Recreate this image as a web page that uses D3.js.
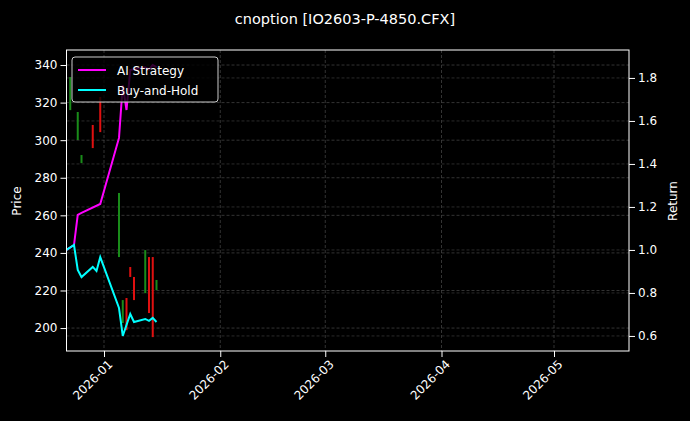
<!DOCTYPE html><html><head><meta charset="utf-8">
<script src="https://cdn.jsdelivr.net/npm/d3@7"></script>
<style>body{margin:0;background:#000}svg{display:block}</style></head><body>
<svg id="c" width="690" height="421"></svg>
<script>
const candleDates=["2025-12-23","2025-12-25","2025-12-26","2025-12-29","2025-12-31","2026-01-05","2026-01-06","2026-01-07","2026-01-08","2026-01-09","2026-01-12","2026-01-13","2026-01-14","2026-01-15"];
const candleOpen =[316.0,300.1,287.8,308.1,323.0,237.8,202.7,216.0,232.5,227.2,218.6,237.8,237.8,220.2];
const candleClose=[333.6,315.0,292.1,295.8,304.3,271.9,214.9,198.9,227.2,214.9,241.5,208.0,195.2,225.6];
const bhDates=["2025-12-22","2025-12-24","2025-12-25","2025-12-26","2025-12-29","2025-12-30","2025-12-31","2026-01-05","2026-01-06","2026-01-08","2026-01-09","2026-01-12","2026-01-13","2026-01-14","2026-01-15"];
const bhValues=[1.0,1.023,0.907,0.874,0.921,0.902,0.967,0.73,0.60,0.702,0.665,0.679,0.670,0.684,0.665];
const aiDates=["2025-12-22","2025-12-24","2025-12-25","2025-12-26","2025-12-31","2026-01-05","2026-01-06","2026-01-07","2026-01-08","2026-01-09","2026-01-12","2026-01-13","2026-01-14","2026-01-15"];
const aiValues=[1.0,1.023,1.163,1.172,1.214,1.521,1.767,1.651,1.837,1.84,1.85,1.84,1.86,1.85];
const priceTicks=[200,220,240,260,280,300,320,340];
const returnTicks=[0.6,0.8,1.0,1.2,1.4,1.6,1.8];
const monthTicks=["2026-01-01","2026-02-01","2026-03-01","2026-04-01","2026-05-01"];

const P=d3.timeParse("%Y-%m-%d");
const L=66.5,R=629,T=50,B=351;
const svg=d3.select("#c");
svg.append("rect").attr("width",690).attr("height",421).attr("fill","#000");
const x=d3.scaleTime().domain([P("2025-12-22"),P("2026-05-21")]).range([L,R]);
const yP=d3.scaleLinear().domain([187.8,348]).range([B,T]);
const yR=d3.scaleLinear().domain([0.530,1.930]).range([B,T]);
const g=svg.append("g");
// grid
monthTicks.forEach(m=>g.append("line").attr("x1",x(P(m))).attr("x2",x(P(m))).attr("y1",T).attr("y2",B).attr("stroke","#555").attr("stroke-width",0.6).attr("stroke-dasharray","3,2"));
priceTicks.forEach(v=>g.append("line").attr("x1",L).attr("x2",R).attr("y1",yP(v)).attr("y2",yP(v)).attr("stroke","#555").attr("stroke-width",0.6).attr("stroke-dasharray","3,2"));
returnTicks.forEach(v=>g.append("line").attr("x1",L).attr("x2",R).attr("y1",yR(v)).attr("y2",yR(v)).attr("stroke","#444").attr("stroke-width",0.6).attr("stroke-dasharray","3,2"));
// candles
candleDates.forEach((d,i)=>{const o=candleOpen[i],c=candleClose[i];
 g.append("rect").attr("x",x(P(d))-1).attr("width",2).attr("y",yP(Math.max(o,c))).attr("height",Math.abs(yP(o)-yP(c)))
 .attr("fill",c>=o?"#1a8c1a":"#e01010");});
const line=d3.line().x(d=>x(d[0])).y(d=>yR(d[1]));
const clip=svg.append("clipPath").attr("id","cp").append("rect").attr("x",L).attr("y",T).attr("width",R-L).attr("height",B-T);
g.append("path").attr("clip-path","url(#cp)").attr("d",line(aiDates.map((d,i)=>[P(d),aiValues[i]]))).attr("fill","none").attr("stroke","#ff00ff").attr("stroke-width",2);
g.append("path").attr("clip-path","url(#cp)").attr("d",line(bhDates.map((d,i)=>[P(d),bhValues[i]]))).attr("fill","none").attr("stroke","#00ffff").attr("stroke-width",2);
// axes
const font="DejaVu Sans";
const ax=svg.append("g").attr("transform",`translate(0,${B})`).call(d3.axisBottom(x).tickValues(monthTicks.map(P)).tickFormat(d3.timeFormat("%Y-%m")).tickSizeOuter(0));
ax.selectAll("text").attr("transform","rotate(-45)").style("text-anchor","end").attr("dx","-0.3em").attr("dy","0.6em");
const al=svg.append("g").attr("transform",`translate(${L},0)`).call(d3.axisLeft(yP).tickValues(priceTicks).tickSizeOuter(0));
const ar=svg.append("g").attr("transform",`translate(${R},0)`).call(d3.axisRight(yR).tickValues(returnTicks).tickFormat(d3.format(".1f")).tickSizeOuter(0));
[ax,al,ar].forEach(a=>{a.select(".domain").remove();a.selectAll("line").attr("stroke","#fff");a.selectAll("text").attr("fill","#fff").style("font-family",font).style("font-size","12px");});
svg.append("rect").attr("x",L).attr("y",T).attr("width",R-L).attr("height",B-T).attr("fill","none").attr("stroke","#fff").attr("stroke-width",1);
svg.append("text").attr("x",345).attr("y",24).attr("text-anchor","middle").attr("fill","#fff").style("font-family",font).style("font-size","14.5px").text("cnoption [IO2603-P-4850.CFX]");
svg.append("text").attr("transform","translate(21,201) rotate(-90)").attr("text-anchor","middle").attr("fill","#fff").style("font-family",font).style("font-size","12px").text("Price");
svg.append("text").attr("transform","translate(677,201) rotate(-90)").attr("text-anchor","middle").attr("fill","#fff").style("font-family",font).style("font-size","12px").text("Return");
// legend
const lg=svg.append("g");
lg.append("rect").attr("x",72).attr("y",57).attr("width",146).attr("height",45).attr("rx",3).attr("fill","#000").attr("fill-opacity",0.8).attr("stroke","#ccc");
[["AI Strategy","#ff00ff"],["Buy-and-Hold","#00ffff"]].forEach(([t,c],i)=>{const yy=70+i*20;
 lg.append("line").attr("x1",78).attr("x2",106).attr("y1",yy).attr("y2",yy).attr("stroke",c).attr("stroke-width",2);
 lg.append("text").attr("x",117).attr("y",yy+4.5).attr("fill","#fff").style("font-family",font).style("font-size","12px").text(t);});
</script></body></html>
